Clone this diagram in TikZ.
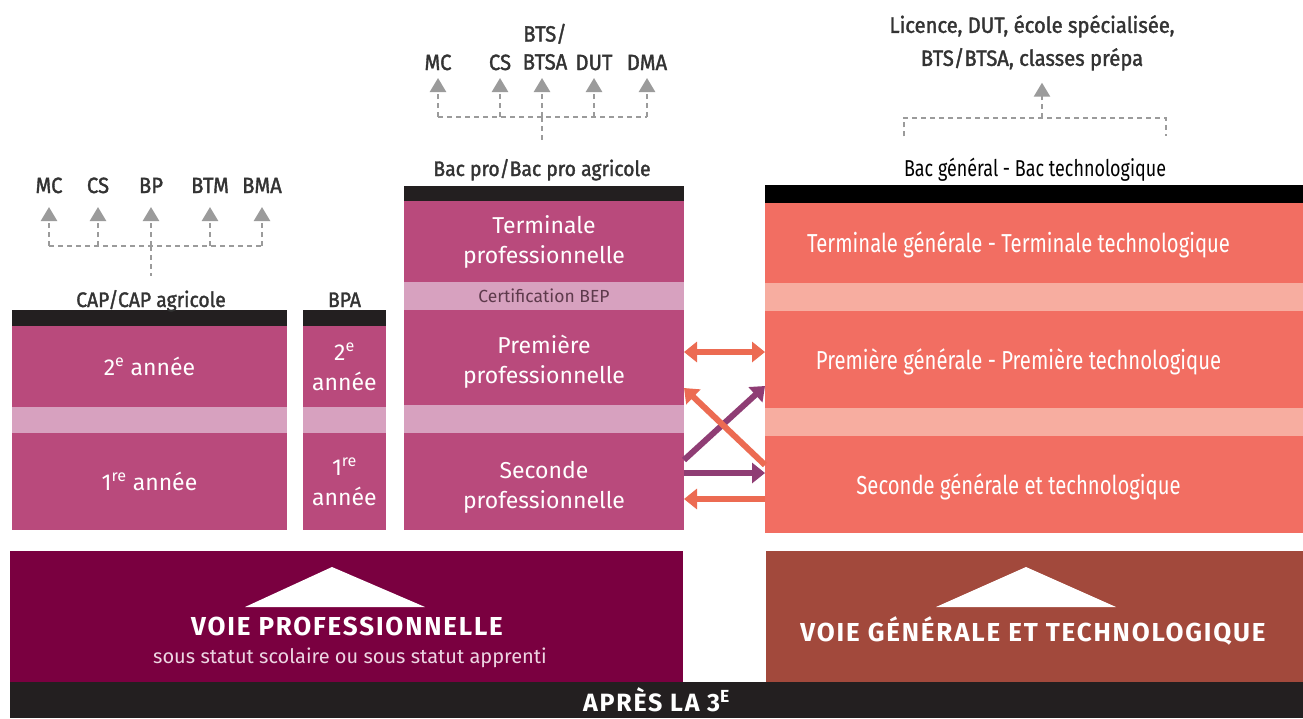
\documentclass[tikz,border=0pt]{standalone}
\usepackage{fontspec}
\setmainfont{Fira Sans}
\newfontfamily\condfont{Fira Sans}[FakeStretch=0.78]
\newfontfamily\lblfont{Fira Sans}[FakeBold=1.6, FakeStretch=0.92]
\newfontfamily\voiefont{Fira Sans}[LetterSpace=7]
\usepackage{tikz}
\usetikzlibrary{arrows.meta}

\definecolor{proRose}{HTML}{B94A7C}
\definecolor{proPale}{HTML}{D7A1BF}
\definecolor{barDark}{HTML}{231F20}
\definecolor{genCoral}{HTML}{F26E62}
\definecolor{genPale}{HTML}{F7ADA0}
\definecolor{voieProCol}{HTML}{7A0040}
\definecolor{voieGenCol}{HTML}{A2493C}
\definecolor{tipGray}{HTML}{9B9B9B}
\definecolor{lblGray}{HTML}{333333}
\definecolor{bepText}{HTML}{5E3A4C}
\definecolor{arrowPurple}{HTML}{8F3D74}
\definecolor{arrowCoral}{HTML}{EC6B52}

\begin{document}
\begin{tikzpicture}[x=1pt, y=-1pt,
   cell/.style={inner sep=0pt, outer sep=0pt, text=white, align=center},
   probox/.style={cell, fill=proRose, font=\fontsize{23}{30}\selectfont},
   protext/.style={inner sep=0pt, text=white, align=center, font=\fontsize{23}{30}\selectfont},
   proband/.style={cell, fill=proPale},
   topbar/.style={cell, fill=barDark},
   genbox/.style={cell, fill=genCoral},
   gentext/.style={inner sep=0pt, text=white, font=\condfont\fontsize{26}{30}\selectfont},
   genband/.style={cell, fill=genPale},
   lbl/.style={inner sep=0pt, anchor=base, text=lblGray, font=\lblfont\fontsize{22}{28}\selectfont},
   dotline/.style={draw=tipGray, line width=2.5pt, dash pattern=on 5pt off 4pt},
   uparrow/.style={dotline, -{Triangle[length=14pt,width=16pt]}},
   cross/.style={line width=6pt, -{Triangle[length=13pt,width=20pt]}},
   voie/.style={inner sep=0pt, anchor=base, text=white, font=\voiefont\bfseries\fontsize{26}{30}\selectfont}]

   \useasboundingbox[fill=white] (0,0) rectangle (1303,718);

   % CAP / BPA columns
   \node[topbar, minimum width=275pt, minimum height=16pt] (capBar) at (149.5,318) {};
   \node[probox, minimum width=275pt, minimum height=81pt] (cap2) at (149.5,366.5) {2\textsuperscript{e} année};
   \node[proband, minimum width=275pt, minimum height=26pt] (capBand) at (149.5,420) {};
   \node[probox, minimum width=275pt, minimum height=97pt] (cap1) at (149.5,481.5) {1\textsuperscript{re} année};

   \node[topbar, minimum width=83pt, minimum height=16pt] (bpaBar) at (344.5,318) {};
   \node[probox, minimum width=83pt, minimum height=81pt] (bpa2) at (344.5,366.5) {2\textsuperscript{e}\\année};
   \node[proband, minimum width=83pt, minimum height=26pt] (bpaBand) at (344.5,420) {};
   \node[probox, minimum width=83pt, minimum height=97pt] (bpa1) at (344.5,481.5) {1\textsuperscript{re}\\année};

   % Bac pro column
   \node[topbar, minimum width=280pt, minimum height=15pt] (proBar) at (544,193.5) {};
   \node[probox, minimum width=280pt, minimum height=81pt] (termPro) at (544,241.5) {Terminale\\professionnelle};
   \node[proband, minimum width=280pt, minimum height=28pt, text=bepText, font=\fontsize{17.5}{20}\selectfont] (bep) at (544,296) {Certification BEP};
   \node[probox, minimum width=280pt, minimum height=95pt] (premPro) at (544,357.5) {};
   \node[proband, minimum width=280pt, minimum height=28pt] (proBand) at (544,419) {};
   \node[probox, minimum width=280pt, minimum height=97pt] (secPro) at (544,481.5) {};
   \node[protext] (premProTxt) at (544,362) {Première\\professionnelle};
   \node[protext] (secProTxt) at (544,487) {Seconde\\professionnelle};

   % voie generale column
   \node[topbar, minimum width=538pt, minimum height=18pt, fill=black] (genBar) at (1034,194) {};
   \node[genbox, minimum width=538pt, minimum height=80pt] (termGen) at (1034,243) {};
   \node[genband, minimum width=538pt, minimum height=28pt] (genBandA) at (1034,297) {};
   \node[genbox, minimum width=538pt, minimum height=97pt] (premGen) at (1034,359.5) {};
   \node[genband, minimum width=538pt, minimum height=28pt] (genBandB) at (1034,422) {};
   \node[genbox, minimum width=538pt, minimum height=97pt] (secGen) at (1034,484.5) {};
   \node[gentext] (termGenTxt) at (1018.5,245) {Terminale générale - Terminale technologique};
   \node[gentext] (premGenTxt) at (1018.5,362) {Première générale - Première technologique};
   \node[gentext] (secGenTxt) at (1018.5,487) {Seconde générale et technologique};

   % titles over the columns
   \node[lbl, font=\lblfont\fontsize{21}{24}\selectfont] (capLbl) at (151,307) {CAP/CAP agricole};
   \node[lbl, font=\lblfont\fontsize{21}{24}\selectfont] (bpaLbl) at (344.5,307) {BPA};
   \node[lbl, font=\lblfont\fontsize{21}{24}\selectfont] (proLbl) at (542,176) {Bac pro/Bac pro agricole};
   \node[inner sep=0pt, anchor=base, font=\condfont\fontsize{23}{26}\selectfont] (genLbl) at (1035,176) {Bac général - Bac technologique};

   % after CAP
   \node[lbl] (capMC) at (49,193) {MC};
   \node[lbl] (capCS) at (98,193) {CS};
   \node[lbl] (capBP) at (151,193) {BP};
   \node[lbl] (capBTM) at (210,193) {BTM};
   \node[lbl] (capBMA) at (262,193) {BMA};
   \coordinate (capBus) at (151,246);
   \draw[dotline] (capMC.base |- capBus) -- (capBMA.base |- capBus);
   \foreach \n in {capMC,capCS,capBP,capBTM,capBMA}
      \draw[uparrow, shorten >=14pt] (\n.base |- capBus) -- (\n.base);
   \draw[dotline] (capBus) -- ([yshift=14pt]capLbl.north);

   % after bac pro
   \node[lbl] (proMC) at (438,70) {MC};
   \node[lbl] (proCS) at (500,70) {CS};
   \node[lbl, anchor=south, align=center] (proBTS) at (545,70) {BTS/\\BTSA};
   \node[lbl] (proDUT) at (594,70) {DUT};
   \node[lbl] (proDMA) at (647,70) {DMA};
   \coordinate (proBus) at (542,117);
   \draw[dotline] (proMC.base |- proBus) -- (proDMA.base |- proBus);
   \foreach \n in {proMC,proCS,proDUT,proDMA}
      \draw[uparrow, shorten >=8pt] (\n.base |- proBus) -- (\n.base);
   \draw[uparrow, shorten >=8pt] (proBus) -- (proBus |- proBTS.south);
   \draw[dotline] (proBus) -- ([yshift=15pt]proLbl.north);

   % after bac general
   \node[lbl, anchor=north, align=center, font=\lblfont\fontsize{22}{33}\selectfont] (genNext) at (1032,15) {Licence, DUT, école spécialisée,\\BTS/BTSA, classes prépa};
   \coordinate (genBus) at (1042,118);
   \draw[uparrow, shorten >=12pt] (genBus) -- (genBus |- genNext.south);
   \draw[dotline] ([yshift=21pt]genLbl.north west) |- (genBus) -| ([yshift=21pt]genLbl.north east);

   % passerelles
   \draw[cross, arrowPurple] ([yshift=21.5pt]secPro.east) -- ([yshift=-26.5pt]premGen.west);
   \draw[cross, arrowPurple] ([yshift=8.5pt]secPro.east) -- ([yshift=11.5pt]secGen.west);
   \draw[cross, arrowCoral] ([yshift=19.5pt]secGen.west) -- ([yshift=-30.5pt]premPro.east);
   \draw[cross, arrowCoral] ([yshift=-14.5pt]secGen.west) -- ([yshift=-17.5pt]secPro.east);
   \draw[cross, arrowCoral, {Triangle[length=13pt,width=20pt]}-{Triangle[length=13pt,width=20pt]}] ([yshift=5.5pt]premPro.east) -- ([yshift=7.5pt]premGen.west);

   % voies
   \node[cell, fill=voieProCol, minimum width=673pt, minimum height=131pt] (voiePro) at (346.5,616.5) {};
   \node[cell, fill=voieGenCol, minimum width=537pt, minimum height=131pt] (voieGen) at (1034.5,616.5) {};
   \fill[white] (332,567) -- (425,607) -- (245,607) -- cycle;
   \fill[white] (1026,567) -- (1116,607) -- (936,607) -- cycle;
   \node[voie] (voieProTxt) at (347,635) {VOIE PROFESSIONNELLE};
   \node[inner sep=0pt, anchor=base, text=proPale!45!white, font=\fontsize{20}{24}\selectfont] (voieProSub) at (350,663) {sous statut scolaire ou sous statut apprenti};
   \node[voie] (voieGenTxt) at (1033,641) {VOIE GÉNÉRALE ET TECHNOLOGIQUE};

   \node[topbar, minimum width=1293pt, minimum height=36pt, font=\voiefont\bfseries\fontsize{25}{28}\selectfont] (apres) at (656.5,700) {APRÈS LA 3\textsuperscript{E}};
\end{tikzpicture}
\end{document}
